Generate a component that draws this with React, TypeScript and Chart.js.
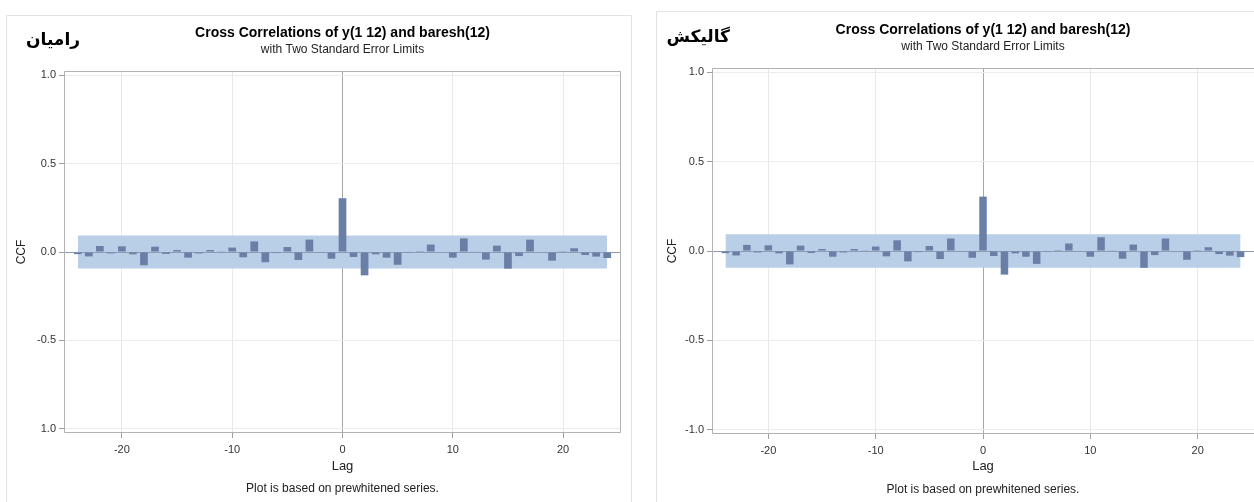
import { useEffect, useRef } from 'react';
import { Chart, registerables } from 'chart.js';

Chart.register(...registerables);

// Lags of the cross-correlation function
const LAGS = [
  -24, -23, -22, -21, -20, -19, -18, -17, -16, -15, -14, -13, -12, -11, -10, -9, -8, -7, -6, -5, -4, -3, -2, -1,
  0, 1, 2, 3, 4, 5, 6, 7, 8, 9, 10, 11, 12, 13, 14, 15, 16, 17, 18, 19, 20, 21, 22, 23, 24,
];

// Cross-correlation of the prewhitened series at each lag
const CCF = [
  -0.012, -0.025, 0.034, -0.008, 0.032, -0.013, -0.075, 0.03, -0.011, 0.011, -0.032, -0.008, 0.011, 0.004, 0.025,
  -0.03, 0.06, -0.058, -0.006, 0.028, -0.045, 0.07, -0.002, -0.038,
  0.304, -0.028, -0.132, -0.013, -0.032, -0.072, -0.001, 0.005, 0.042, 0.003, -0.032, 0.077, 0.002, -0.043, 0.036,
  -0.094, -0.023, 0.07, -0.003, -0.049, 0.001, 0.021, -0.017, -0.026, -0.034,
];

// Two standard error limit
const STD_ERR_LIMIT = 0.093;

const LAG_TICKS = [-20, -10, 0, 10, 20];
const CCF_TICKS = [1, 0.5, 0, -0.5, -1];
const RAMIAN_CCF_LABELS = ['1.0', '0.5', '0.0', '-0.5', '1.0'];
const GALIKESH_CCF_LABELS = ['1.0', '0.5', '0.0', '-0.5', '-1.0'];

const TITLE = 'Cross Correlations of y(1 12) and baresh(12)';
const SUBTITLE = 'with Two Standard Error Limits';
const FOOTNOTE = 'Plot is based on prewhitened series.';

const SANS = '"Liberation Sans", Arial, sans-serif';

type Panel = {
  station: string;
  ccfLabels: string[];
  left: number;
  width: number;
  padTop: number;
  padRight: number;
  xAxisHeight: number;
  yAxisWidth: number;
  titleY: number;
  subtitleY: number;
  stationX: number;
  stationY: number;
  ccfX: number;
  lagY: number;
  footY: number;
  closedFrame: boolean;
  border: { x: number; y: number; right: number | null };
};

const PANELS: Panel[] = [
  {
    station: 'رامیان',
    ccfLabels: RAMIAN_CCF_LABELS,
    left: 0,
    width: 640,
    padTop: 71,
    padRight: 19,
    xAxisHeight: 69,
    yAxisWidth: 64,
    titleY: 33,
    subtitleY: 50,
    stationX: 80,
    stationY: 41,
    ccfX: 22,
    lagY: 466,
    footY: 489,
    closedFrame: true,
    border: { x: 6.5, y: 15.5, right: 631.5 },
  },
  {
    station: 'گالیکش',
    ccfLabels: GALIKESH_CCF_LABELS,
    left: 648,
    width: 606,
    padTop: 68,
    padRight: 0,
    xAxisHeight: 68,
    yAxisWidth: 64,
    titleY: 30,
    subtitleY: 47,
    stationX: 82,
    stationY: 38,
    ccfX: 25,
    lagY: 466,
    footY: 490,
    closedFrame: false,
    border: { x: 8.5, y: 11.5, right: null },
  },
];

function makeDecor(panel: Panel) {
  return {
    id: 'ccfDecor',
    beforeDatasetDraw(chart: any, args: any) {
      if (args.index !== 2) return;
      const { ctx, chartArea, scales } = chart;
      const y0 = Math.round(scales.y.getPixelForValue(0)) + 0.5;
      ctx.save();
      ctx.strokeStyle = '#8d9cb3';
      ctx.lineWidth = 1;
      ctx.beginPath();
      ctx.moveTo(chartArea.left, y0);
      ctx.lineTo(chartArea.right, y0);
      ctx.stroke();
      ctx.restore();
    },
    afterDraw(chart: any) {
      const { ctx, chartArea, height } = chart;
      const cx = (chartArea.left + chartArea.right) / 2;
      ctx.save();

      // plot frame
      const l = Math.round(chartArea.left) + 0.5;
      const t = Math.round(chartArea.top) + 0.5;
      const r = Math.round(chartArea.right) - 0.5;
      const b = Math.round(chartArea.bottom) - 0.5;
      ctx.strokeStyle = '#b2b2b2';
      ctx.lineWidth = 1;
      ctx.beginPath();
      if (panel.closedFrame) {
        ctx.rect(l, t, r - l, b - t);
      } else {
        ctx.moveTo(chart.width, t);
        ctx.lineTo(l, t);
        ctx.lineTo(l, b);
        ctx.lineTo(chart.width, b);
      }
      ctx.stroke();

      // panel outline
      ctx.strokeStyle = '#e2e2e2';
      ctx.beginPath();
      ctx.moveTo(panel.border.x, height);
      ctx.lineTo(panel.border.x, panel.border.y);
      if (panel.border.right !== null) {
        ctx.lineTo(panel.border.right, panel.border.y);
        ctx.lineTo(panel.border.right, height);
      } else {
        ctx.lineTo(chart.width, panel.border.y);
      }
      ctx.stroke();

      ctx.textAlign = 'center';
      ctx.textBaseline = 'middle';
      ctx.fillStyle = '#000';
      ctx.font = `bold 14px ${SANS}`;
      ctx.fillText(TITLE, cx, panel.titleY);
      ctx.fillStyle = '#222';
      ctx.font = `12px ${SANS}`;
      ctx.fillText(SUBTITLE, cx, panel.subtitleY);

      ctx.fillStyle = '#222';
      ctx.font = `13px ${SANS}`;
      ctx.fillText('Lag', cx, panel.lagY);
      ctx.font = `12px ${SANS}`;
      ctx.fillText(FOOTNOTE, cx, panel.footY);

      ctx.save();
      ctx.translate(panel.ccfX, (chartArea.top + chartArea.bottom) / 2);
      ctx.rotate(-Math.PI / 2);
      ctx.font = `12px ${SANS}`;
      ctx.fillText('CCF', 0, 0);
      ctx.restore();

      ctx.fillStyle = '#000';
      ctx.textAlign = 'right';
      ctx.font = 'bold 17px "DejaVu Sans", sans-serif';
      ctx.fillText(panel.station, panel.stationX, panel.stationY);

      ctx.restore();
    },
  };
}

function CcfPanel({ panel }: { panel: Panel }) {
  const ref = useRef<HTMLCanvasElement | null>(null);

  useEffect(() => {
    const canvas = ref.current;
    if (!canvas) return;
    const bandColor = '#b9cfe8';
    const chart = new Chart(canvas, {
      type: 'bar',
      data: {
        datasets: [
          {
            type: 'line',
            data: [
              { x: LAGS[0], y: STD_ERR_LIMIT },
              { x: LAGS[LAGS.length - 1], y: STD_ERR_LIMIT },
            ],
            borderWidth: 0,
            borderColor: bandColor,
            backgroundColor: bandColor,
            pointRadius: 0,
            fill: '+1',
            order: 3,
          },
          {
            type: 'line',
            data: [
              { x: LAGS[0], y: -STD_ERR_LIMIT },
              { x: LAGS[LAGS.length - 1], y: -STD_ERR_LIMIT },
            ],
            borderWidth: 0,
            borderColor: bandColor,
            backgroundColor: bandColor,
            pointRadius: 0,
            fill: false,
            order: 3,
          },
          {
            type: 'bar',
            data: LAGS.map((lag, i) => ({ x: lag, y: CCF[i] })),
            backgroundColor: '#6a7fa6',
            borderWidth: 0,
            barPercentage: 0.7,
            categoryPercentage: 1,
            order: 1,
          },
        ] as any,
      },
      options: {
        responsive: false,
        animation: false,
        devicePixelRatio: 1,
        events: [],
        layout: { padding: { top: panel.padTop, right: panel.padRight, bottom: 0, left: 0 } },
        plugins: {
          legend: { display: false },
          tooltip: { enabled: false },
          title: { display: false },
        },
        scales: {
          x: {
            type: 'linear',
            min: -25.25,
            max: 25.25,
            offset: false,
            afterBuildTicks: (s: any) => {
              s.ticks = LAG_TICKS.map((v) => ({ value: v }));
            },
            afterFit: (s: any) => {
              s.height = panel.xAxisHeight;
            },
            border: { display: false },
            grid: {
              offset: false,
              color: (c: any) => (c.tick && c.tick.value === 0 ? '#a6a6a6' : '#e8e8e8'),
              tickColor: '#a0a0a0',
              tickLength: 5,
            },
            ticks: {
              autoSkip: false,
              maxRotation: 0,
              padding: 5,
              color: '#333',
              font: { family: SANS, size: 11 },
              callback: (v: any) => String(v),
            },
          },
          y: {
            type: 'linear',
            min: -1.023,
            max: 1.023,
            afterBuildTicks: (s: any) => {
              s.ticks = CCF_TICKS.map((v) => ({ value: v }));
            },
            afterFit: (s: any) => {
              s.width = panel.yAxisWidth;
            },
            border: { display: false },
            grid: {
              color: (c: any) => (c.tick && c.tick.value === 0 ? 'rgba(0,0,0,0)' : '#ededed'),
              tickColor: '#a0a0a0',
              tickLength: 5,
            },
            ticks: {
              padding: 3,
              color: '#333',
              font: { family: SANS, size: 11 },
              callback: (v: any) => panel.ccfLabels[CCF_TICKS.indexOf(Number(v))] ?? '',
            },
          },
        },
      } as any,
      plugins: [makeDecor(panel)],
    });
    return () => chart.destroy();
  }, [panel]);

  return (
    <canvas
      ref={ref}
      width={panel.width}
      height={502}
      style={{ position: 'absolute', left: panel.left, top: 0, width: panel.width, height: 502 }}
    />
  );
}

export default function App() {
  return (
    <div
      style={{
        position: 'absolute',
        left: 0,
        top: 0,
        width: 1254,
        height: 502,
        background: '#fff',
        overflow: 'hidden',
      }}
    >
      {PANELS.map((p) => (
        <CcfPanel key={p.station} panel={p} />
      ))}
    </div>
  );
}
